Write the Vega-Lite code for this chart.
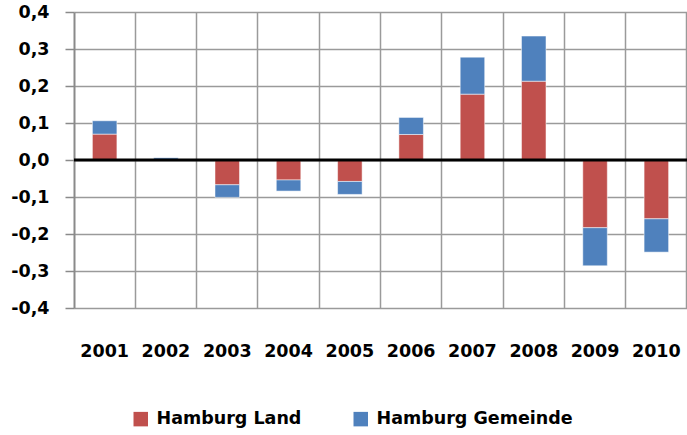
{
  "$schema": "https://vega.github.io/schema/vega-lite/v6.json",
  "width": 613,
  "height": 296,
  "autosize": {"type": "none"},
  "padding": {"left": 74, "top": 12, "right": 0, "bottom": 127},
  "background": "white",
  "config": {
    "view": {"stroke": null},
    "font": "DejaVu Sans",
    "axis": {"labelOverlap": false},
    "axisY": {
      "title": null, "values": [-0.4, -0.3, -0.2, -0.1, 0, 0.1, 0.2, 0.3, 0.4],
      "labelOverlap": false, "labelSeparation": 0,
      "grid": true, "gridColor": "#9a9a9a", "gridWidth": 1.5,
      "domainColor": "#8a8a8a", "domainWidth": 2,
      "tickColor": "#8a8a8a", "tickWidth": 1.5, "tickSize": 9,
      "labelFontSize": 17.5, "labelColor": "#000000", "labelPadding": 16,
      "labelFontWeight": "bold"
    }
  },
  "data": {
    "values": [
      {"year": "2001", "series": "Hamburg Land", "order": 1, "value": 0.070},
      {"year": "2001", "series": "Hamburg Gemeinde", "order": 2, "value": 0.036},
      {"year": "2002", "series": "Hamburg Land", "order": 1, "value": 0.0},
      {"year": "2002", "series": "Hamburg Gemeinde", "order": 2, "value": 0.006},
      {"year": "2003", "series": "Hamburg Land", "order": 1, "value": -0.067},
      {"year": "2003", "series": "Hamburg Gemeinde", "order": 2, "value": -0.034},
      {"year": "2004", "series": "Hamburg Land", "order": 1, "value": -0.054},
      {"year": "2004", "series": "Hamburg Gemeinde", "order": 2, "value": -0.030},
      {"year": "2005", "series": "Hamburg Land", "order": 1, "value": -0.058},
      {"year": "2005", "series": "Hamburg Gemeinde", "order": 2, "value": -0.035},
      {"year": "2006", "series": "Hamburg Land", "order": 1, "value": 0.069},
      {"year": "2006", "series": "Hamburg Gemeinde", "order": 2, "value": 0.046},
      {"year": "2007", "series": "Hamburg Land", "order": 1, "value": 0.178},
      {"year": "2007", "series": "Hamburg Gemeinde", "order": 2, "value": 0.100},
      {"year": "2008", "series": "Hamburg Land", "order": 1, "value": 0.213},
      {"year": "2008", "series": "Hamburg Gemeinde", "order": 2, "value": 0.122},
      {"year": "2009", "series": "Hamburg Land", "order": 1, "value": -0.183},
      {"year": "2009", "series": "Hamburg Gemeinde", "order": 2, "value": -0.103},
      {"year": "2010", "series": "Hamburg Land", "order": 1, "value": -0.159},
      {"year": "2010", "series": "Hamburg Gemeinde", "order": 2, "value": -0.090}
    ]
  },
  "layer": [
    {
      "mark": {"type": "bar", "stroke": "#ffffff", "strokeOpacity": 0.5, "strokeWidth": 1},
      "encoding": {
        "x": {
          "field": "year", "type": "nominal",
          "scale": {"paddingInner": 0.6, "paddingOuter": 0.3},
          "axis": {
            "title": null, "labelAngle": 0, "grid": true, "bandPosition": 1.75,
            "gridColor": "#9a9a9a", "gridWidth": 1.5,
            "domain": false, "ticks": false,
            "labelFontSize": 17.5, "labelColor": "#000000", "labelPadding": 34,
            "labelFontWeight": "bold"
          }
        },
        "y": {
          "field": "value", "type": "quantitative", "stack": "zero",
          "scale": {"domain": [-0.4, 0.4], "nice": false},
          "axis": {
            "labelOverlap": false,
            "labelExpr": "(datum.value < -0.001 ? '-' : '') + replace(format(abs(datum.value), '.1f'), '.', ',')"
          }
        },
        "color": {
          "field": "series", "type": "nominal",
          "scale": {"domain": ["Hamburg Land", "Hamburg Gemeinde"], "range": ["#C0504D", "#4F81BD"]},
          "legend": {
            "title": null, "orient": "none", "legendX": 58, "legendY": 398,
            "direction": "horizontal", "columns": 2,
            "symbolType": "square", "symbolSize": 210, "symbolStrokeWidth": 0,
            "labelFontSize": 17.5, "labelColor": "#000000", "labelOffset": 7,
            "columnPadding": 50, "labelFontWeight": "bold", "labelLimit": 400
          }
        },
        "order": {"field": "order", "type": "quantitative"}
      }
    },
    {
      "data": {"values": [{"y": 0}]},
      "mark": {"type": "rule", "color": "#000000", "strokeWidth": 3},
      "encoding": {"y": {"field": "y", "type": "quantitative", "axis": {
            "labelOverlap": false,
            "labelExpr": "(datum.value < -0.001 ? '-' : '') + replace(format(abs(datum.value), '.1f'), '.', ',')"
          }}}
    }
  ]
}
